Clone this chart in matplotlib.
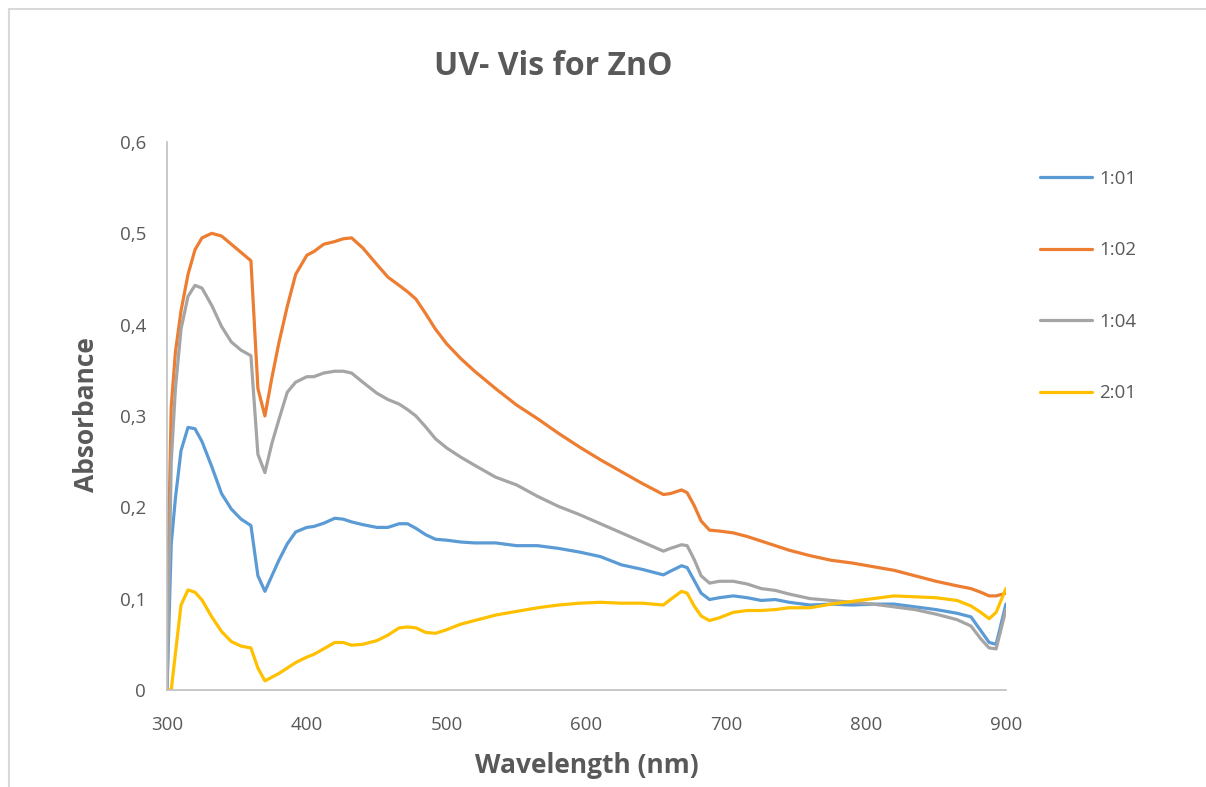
import matplotlib
matplotlib.use("Agg")
import matplotlib.pyplot as plt
from matplotlib.patches import Rectangle
from matplotlib.ticker import FuncFormatter

plt.rcParams['font.family'] = ['Open Sans', 'DejaVu Sans']

# wavelength grid (nm)
wavelength = [300, 303, 306, 310, 315, 320, 325, 332, 339, 346, 353, 360, 365, 370,
              375, 380, 386, 392, 400, 405, 412, 420, 426, 432, 440, 450, 458, 466,
              472, 478, 485, 492, 500, 510, 520, 535, 550, 565, 580, 595, 610, 625,
              640, 655, 660, 668, 672, 677, 682, 688, 695, 705, 715, 725, 735, 745,
              760, 775, 790, 805, 820, 835, 850, 865, 875, 882, 888, 893, 900]

abs_1_01 = [0.0, 0.16, 0.21, 0.262, 0.2875, 0.286, 0.272, 0.2445, 0.215, 0.198, 0.187,
            0.180, 0.125, 0.108, 0.125, 0.142, 0.160, 0.173, 0.178, 0.179, 0.1825, 0.188,
            0.187, 0.184, 0.181, 0.178, 0.178, 0.182, 0.182, 0.177, 0.170, 0.165, 0.164,
            0.162, 0.161, 0.161, 0.158, 0.158, 0.155, 0.151, 0.146, 0.137, 0.132, 0.126,
            0.130, 0.136, 0.134, 0.120, 0.106, 0.099, 0.101, 0.103, 0.101, 0.098, 0.099,
            0.096, 0.093, 0.094, 0.093, 0.094, 0.094, 0.091, 0.088, 0.084, 0.080, 0.065,
            0.052, 0.050, 0.094]

abs_1_02 = [0.08, 0.31, 0.37, 0.415, 0.455, 0.482, 0.495, 0.500, 0.497, 0.488, 0.479,
            0.470, 0.33, 0.30, 0.342, 0.38, 0.42, 0.455, 0.476, 0.480, 0.488, 0.491,
            0.494, 0.495, 0.484, 0.466, 0.452, 0.443, 0.436, 0.428, 0.412, 0.395, 0.379,
            0.363, 0.349, 0.330, 0.312, 0.297, 0.281, 0.266, 0.252, 0.239, 0.226, 0.214,
            0.215, 0.219, 0.216, 0.202, 0.185, 0.175, 0.174, 0.172, 0.168, 0.163, 0.158,
            0.153, 0.147, 0.142, 0.139, 0.135, 0.131, 0.125, 0.119, 0.114, 0.111, 0.107,
            0.103, 0.103, 0.106]

abs_1_04 = [0.0, 0.25, 0.33, 0.395, 0.431, 0.443, 0.440, 0.421, 0.398, 0.381, 0.372,
            0.366, 0.258, 0.238, 0.27, 0.296, 0.326, 0.337, 0.343, 0.343, 0.347, 0.349,
            0.349, 0.347, 0.337, 0.325, 0.318, 0.313, 0.307, 0.300, 0.288, 0.275, 0.265,
            0.255, 0.246, 0.233, 0.2245, 0.212, 0.201, 0.192, 0.182, 0.172, 0.162, 0.152,
            0.155, 0.159, 0.158, 0.143, 0.125, 0.117, 0.119, 0.119, 0.116, 0.111, 0.109,
            0.105, 0.100, 0.098, 0.096, 0.094, 0.091, 0.088, 0.083, 0.077, 0.070, 0.056,
            0.046, 0.045, 0.088]

abs_2_01 = [0.0, 0.0, 0.04, 0.093, 0.1095, 0.107, 0.0985, 0.080, 0.064, 0.053, 0.048,
            0.046, 0.024, 0.010, 0.014, 0.018, 0.024, 0.030, 0.036, 0.039, 0.045, 0.052,
            0.052, 0.049, 0.050, 0.054, 0.060, 0.068, 0.069, 0.068, 0.063, 0.062, 0.066,
            0.072, 0.076, 0.082, 0.086, 0.090, 0.093, 0.095, 0.096, 0.095, 0.095, 0.093,
            0.099, 0.108, 0.106, 0.092, 0.081, 0.076, 0.079, 0.085, 0.087, 0.087, 0.088,
            0.090, 0.090, 0.094, 0.097, 0.100, 0.103, 0.102, 0.101, 0.098, 0.092, 0.085,
            0.078, 0.085, 0.111]

series_labels = ['1:01', '1:02', '1:04', '2:01']
series_colors = ['#5B9BD5', '#ED7D31', '#A5A5A5', '#FFC000']
x_ticks = [300, 400, 500, 600, 700, 800, 900]
y_ticks = [0, 0.1, 0.2, 0.3, 0.4, 0.5, 0.6]

txt = '#595959'

fig = plt.figure(figsize=(12.06, 7.87), dpi=100)
ax = fig.add_axes([0.1385, 0.1233, 0.6956, 0.6963])

for vals, lab, col in zip([abs_1_01, abs_1_02, abs_1_04, abs_2_01], series_labels, series_colors):
    ax.plot(wavelength, vals, color=col, lw=2.3, label=lab, solid_joinstyle='round',
            solid_capstyle='round')

ax.set_xlim(300, 900)
ax.set_ylim(0, 0.6)
ax.set_xticks(x_ticks)
ax.set_yticks(y_ticks)
ax.yaxis.set_major_formatter(FuncFormatter(lambda v, p: '0' if v == 0 else f'{v:.1f}'.replace('.', ',')))
ax.tick_params(length=0, labelsize=13.5, labelcolor=txt)
ax.tick_params(axis='x', pad=19)
ax.tick_params(axis='y', pad=15)

for s in ['top', 'right']:
    ax.spines[s].set_visible(False)
for s in ['left', 'bottom']:
    ax.spines[s].set_color('#BFBFBF')
    ax.spines[s].set_linewidth(1.2)

ax.set_xlabel('Wavelength (nm)', fontsize=19, fontweight='bold', color=txt)
ax.set_ylabel('Absorbance', fontsize=19, fontweight='bold', color=txt)
ax.xaxis.set_label_coords(0.5, -0.113)
ax.yaxis.set_label_coords(-0.08, 0.502)

fig.text(0.4585, 0.915, 'UV- Vis for ZnO', ha='center', va='center',
         fontsize=23, fontweight='bold', color=txt)

ax.legend(loc='upper left', bbox_to_anchor=(0.862, 0.784), bbox_transform=fig.transFigure,
          frameon=False, fontsize=13.5, labelcolor=txt, handlelength=2.8,
          handletextpad=0.4, labelspacing=2.85, borderpad=0, borderaxespad=0)

# outer chart border
fig.patches.append(Rectangle((9 / 1206, -0.1), 1.2, 1.1 - 9 / 787, transform=fig.transFigure,
                             fill=False, edgecolor='#D9D9D9', lw=1.5))

fig.savefig('out.png', dpi=100, facecolor='white')
